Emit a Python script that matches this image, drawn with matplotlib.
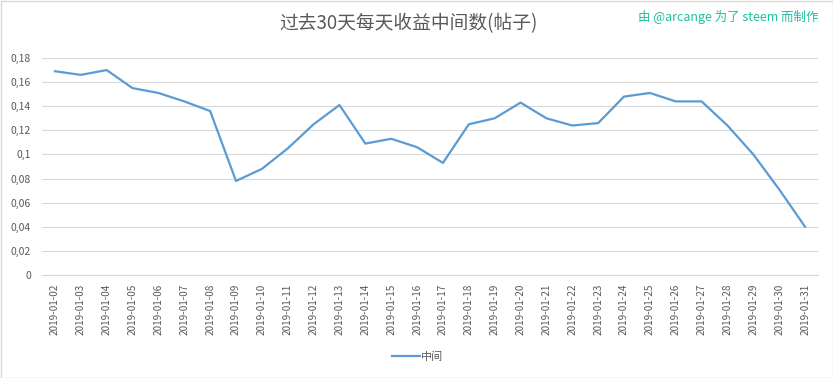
import matplotlib
matplotlib.use("Agg")
import matplotlib.pyplot as plt
from matplotlib.ticker import FuncFormatter, MultipleLocator
from matplotlib.patches import Rectangle

plt.rcParams['font.family'] = ['Noto Sans CJK SC', 'DejaVu Sans']

dates = ["2019-01-%02d" % d for d in range(2, 32)]
median_values = [0.169, 0.166, 0.170, 0.155, 0.151, 0.144, 0.136, 0.078, 0.088, 0.105,
                 0.125, 0.141, 0.109, 0.113, 0.106, 0.093, 0.125, 0.130, 0.143, 0.130,
                 0.124, 0.126, 0.148, 0.151, 0.144, 0.144, 0.124, 0.100, 0.071, 0.040]
series_name = "中间"
title = "过去30天每天收益中间数(帖子)"
watermark = "由 @arcange 为了 steem 而制作"

fig = plt.figure(figsize=(8.33, 3.78), dpi=100)
ax = fig.add_axes([42/833, 1-275/378, 776/833, 217/378])

x = list(range(len(dates)))
ax.plot(x, median_values, color="#5b9bd5", lw=1.6, label=series_name)
ax.set_xlim(-0.5, len(dates)-0.5)
ax.set_ylim(0, 0.18)
ax.yaxis.set_major_locator(MultipleLocator(0.02))
def fmt(v, pos):
    s = ("%.2f" % v).rstrip('0').rstrip('.')
    return s.replace('.', ',')
ax.yaxis.set_major_formatter(FuncFormatter(fmt))
ax.set_xticks(x)
ax.set_xticklabels(dates, rotation=90, fontsize=7.2, color="#595959")
ax.tick_params(axis='y', labelsize=7.5, labelcolor="#595959", length=0, pad=8)
ax.tick_params(axis='x', length=0, pad=6)
ax.grid(axis='y', color="#d9d9d9", lw=0.8)
ax.set_axisbelow(True)
for s in ['top', 'right', 'left']:
    ax.spines[s].set_visible(False)
ax.spines['bottom'].set_color("#d9d9d9")
ax.spines['bottom'].set_linewidth(0.8)

fig.text(409/833, 1-24/378, title, ha='center', va='center', fontsize=13.5, color="#595959")
fig.text(818/833, 1-17/378, watermark, ha='right', va='center', fontsize=9, color="#1fbfa0")

fig.legend(loc='center', bbox_to_anchor=(418/833, 1-357/378), frameon=False,
           fontsize=8, labelcolor="#595959", handlelength=2.5, handletextpad=0.1)

fig.patches.append(Rectangle((0.5/833, 0.5/378), 1-1/833, 1-1/378, transform=fig.transFigure,
                             fill=False, edgecolor="#d9d9d9", lw=1))

fig.savefig("out.png", dpi=100)
